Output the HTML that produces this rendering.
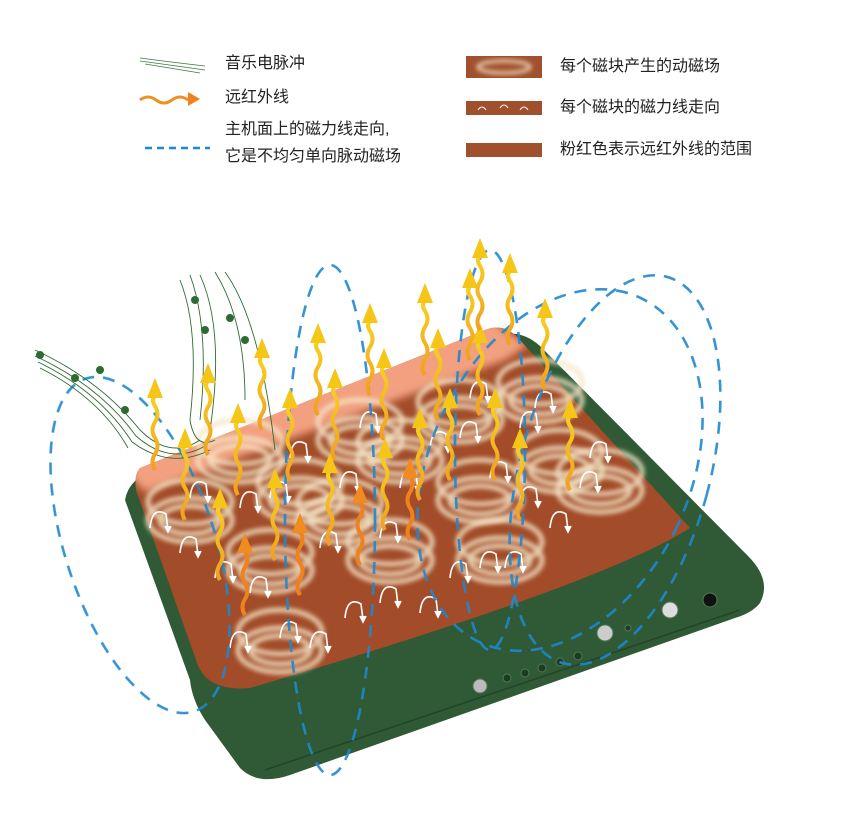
<!DOCTYPE html>
<html><head><meta charset="utf-8"><style>
body{margin:0;background:#fff;width:842px;height:837px;overflow:hidden;font-family:"Liberation Sans","Noto Sans CJK SC",sans-serif;}
.t{position:absolute;font-size:16px;color:#222;line-height:20px;white-space:nowrap}
</style></head><body>
<div class="t" style="left:225px;top:54px">音乐电脉冲</div>
<div class="t" style="left:225px;top:88px">远红外线</div>
<div class="t" style="left:225px;top:120px">主机面上的磁力线走向,</div>
<div class="t" style="left:225px;top:147px">它是不均匀单向脉动磁场</div>
<div class="t" style="left:560px;top:57px">每个磁块产生的动磁场</div>
<div class="t" style="left:560px;top:98px">每个磁块的磁力线走向</div>
<div class="t" style="left:560px;top:140px">粉红色表示远红外线的范围</div>
<svg width="842" height="837" style="position:absolute;left:0;top:0" xmlns="http://www.w3.org/2000/svg">
<defs>
<filter id="bl" x="-30%" y="-30%" width="160%" height="160%"><feGaussianBlur stdDeviation="2.5"/></filter>
<filter id="bl2" x="-30%" y="-30%" width="160%" height="160%"><feGaussianBlur stdDeviation="4"/></filter>
<linearGradient id="ya" x1="0" y1="1" x2="0" y2="0"><stop offset="0" stop-color="#f0a020"/><stop offset="1" stop-color="#f7d020"/></linearGradient>
<g id="ar"><path d="M0,0 q-5,-8 0,-16 q5,-8 0,-16 q-5,-8 0,-16 q5,-8 0,-16 q-4,-6 0,-10" fill="none" stroke="url(#ya)" stroke-width="4"/><path d="M-8,-72 L0,-92 L8,-72 Z" fill="#f5c518"/></g>
<g id="oa"><path d="M0,0 q-5,-8 0,-16 q5,-8 0,-16 q-5,-8 0,-16 q5,-8 0,-16" fill="none" stroke="#f0821e" stroke-width="4"/><path d="M-8,-62 L0,-82 L8,-62 Z" fill="#f08c1e"/></g>
<g id="coil" filter="url(#bl)" fill="none" stroke="#f4e6c8" stroke-width="5" opacity="0.85"><ellipse cx="0" cy="0" rx="42" ry="22"/><ellipse cx="0" cy="0" rx="30" ry="14"/><ellipse cx="0" cy="-18" rx="42" ry="22"/></g>
<g id="sa" fill="none" stroke="#fff" stroke-width="1.6"><path d="M-10,8 Q-8,-14 6,-6 L8,10"/><path d="M5,6 l3,6 l3,-6" fill="#fff"/></g>
<clipPath id="top"><path d="M140,468 L485,330 Q505,322 520,340 L690,528 Q600,585 250,688 Q205,692 196,660 L136,490 Q134,474 140,468Z"/></clipPath>
</defs>
<g stroke="#3b7a3b" stroke-width="0.8" fill="none"><path d="M140,58 Q170,62 205,66"/><path d="M140,61 Q170,65 205,70"/><path d="M145,64 Q170,68 200,73"/></g>
<path d="M140,100 q8,-6 16,0 q8,6 16,0 q8,-6 16,0" fill="none" stroke="#f0901e" stroke-width="3"/><path d="M188,92 L200,99 L188,106Z" fill="#f0821e"/>
<line x1="145" y1="148" x2="210" y2="148" stroke="#1e88d0" stroke-width="2.5" stroke-dasharray="7,5"/>
<rect x="466" y="56" width="76" height="22" fill="#a0502c"/><ellipse cx="504" cy="67" rx="26" ry="6" fill="none" stroke="#f2e0c0" stroke-width="3" filter="url(#bl)"/>
<rect x="466" y="101" width="76" height="14" fill="#a0502c"/><path d="M478,110 q4,-6 8,0 M500,108 q4,-6 8,0 M520,110 q4,-6 8,0" stroke="#fff" fill="none"/>
<rect x="466" y="143" width="76" height="14" fill="#a0502c"/>
<path d="M125,500 Q128,482 148,472 L495,336 Q520,328 540,346 L748,556 Q772,580 760,603 Q752,613 735,618 L290,775 Q258,786 240,768 L205,720 Q192,700 190,680 Z" fill="#2f5a35"/>
<path d="M265,770 L740,610" stroke="#234528" stroke-width="1.5"/>
<g clip-path="url(#top)">
<rect x="100" y="300" width="650" height="420" fill="#a24c29"/>
<path d="M120,465 L490,320 L528,345 L505,360 L145,492 Z" fill="#f2a080" filter="url(#bl2)"/>
</g>
<g fill="#1e3a22" stroke="#4f7a55"><circle cx="480" cy="686" r="7" fill="#bbb"/><circle cx="507" cy="678" r="4"/><circle cx="525" cy="673" r="4"/><circle cx="542" cy="668" r="4"/><circle cx="560" cy="662" r="4"/><circle cx="578" cy="656" r="4"/><circle cx="605" cy="633" r="8" fill="#ccc"/><circle cx="628" cy="628" r="3"/><circle cx="670" cy="610" r="8" fill="#ddd"/><circle cx="710" cy="600" r="7" fill="#111"/></g>
<g>
<use href="#coil" x="190" y="520"/><use href="#coil" x="270" y="570"/><use href="#coil" x="280" y="650"/><use href="#coil" x="300" y="500"/><use href="#coil" x="390" y="560"/><use href="#coil" x="400" y="460"/><use href="#coil" x="500" y="560"/><use href="#coil" x="480" y="500"/><use href="#coil" x="460" y="420"/><use href="#coil" x="560" y="470"/><use href="#coil" x="540" y="400"/><use href="#coil" x="360" y="440"/><use href="#coil" x="240" y="460"/><use href="#coil" x="600" y="490"/><use href="#coil" x="340" y="520"/>
</g>
<g>
<use href="#sa" x="160" y="520"/><use href="#sa" x="190" y="545"/><use href="#sa" x="225" y="570"/><use href="#sa" x="260" y="585"/><use href="#sa" x="290" y="630"/><use href="#sa" x="320" y="640"/><use href="#sa" x="240" y="640"/><use href="#sa" x="355" y="610"/><use href="#sa" x="390" y="595"/><use href="#sa" x="430" y="605"/><use href="#sa" x="460" y="570"/><use href="#sa" x="490" y="560"/><use href="#sa" x="515" y="560"/><use href="#sa" x="330" y="540"/><use href="#sa" x="390" y="530"/><use href="#sa" x="250" y="500"/><use href="#sa" x="280" y="490"/><use href="#sa" x="350" y="480"/><use href="#sa" x="410" y="480"/><use href="#sa" x="440" y="440"/><use href="#sa" x="500" y="470"/><use href="#sa" x="530" y="495"/><use href="#sa" x="560" y="520"/><use href="#sa" x="590" y="480"/><use href="#sa" x="600" y="450"/><use href="#sa" x="530" y="420"/><use href="#sa" x="470" y="430"/><use href="#sa" x="480" y="390"/><use href="#sa" x="545" y="400"/><use href="#sa" x="300" y="450"/><use href="#sa" x="200" y="490"/><use href="#sa" x="370" y="420"/>
</g>
<g fill="none" stroke="#1e88d0" stroke-width="2.6" stroke-dasharray="12,9" opacity="0.9">
<ellipse cx="330" cy="520" rx="45" ry="255"/>
<ellipse cx="490" cy="450" rx="35" ry="200"/>
<ellipse cx="615" cy="470" rx="95" ry="200" transform="rotate(15 615 470)"/>
<ellipse cx="560" cy="470" rx="130" ry="190" transform="rotate(25 560 470)"/>
<ellipse cx="140" cy="545" rx="75" ry="175" transform="rotate(-18 140 545)"/>
</g>
<g fill="none" stroke="#2e6b33" stroke-width="0.9">
<path d="M35,350 Q100,380 140,430 Q170,460 200,440"/><path d="M35,356 Q100,386 136,436 Q170,466 205,446"/><path d="M38,362 Q100,392 132,442 Q170,470 210,450"/><path d="M40,368 Q100,398 128,448"/>
<path d="M180,280 Q200,330 190,420 Q195,450 215,440"/><path d="M190,275 Q210,330 200,420"/><path d="M200,275 Q225,330 210,430"/><path d="M215,272 Q245,320 245,400"/><path d="M225,272 Q260,320 275,450"/>
</g>
<g fill="#2e6b33"><circle cx="40" cy="355" r="4"/><circle cx="75" cy="378" r="4"/><circle cx="100" cy="370" r="4"/><circle cx="125" cy="410" r="4"/><circle cx="195" cy="300" r="4"/><circle cx="230" cy="318" r="4"/><circle cx="245" cy="340" r="4"/><circle cx="205" cy="330" r="4"/></g>
<g>
<use href="#ar" x="155" y="470"/><use href="#ar" x="208" y="455"/><use href="#ar" x="262" y="430"/><use href="#ar" x="318" y="415"/><use href="#ar" x="370" y="395"/><use href="#ar" x="425" y="375"/><use href="#ar" x="470" y="360"/><use href="#ar" x="510" y="345"/>
<use href="#ar" x="185" y="520"/><use href="#ar" x="238" y="495"/><use href="#ar" x="290" y="480"/><use href="#ar" x="335" y="460"/><use href="#ar" x="384" y="440"/><use href="#ar" x="438" y="420"/><use href="#ar" x="480" y="415"/><use href="#ar" x="545" y="390"/>
<use href="#ar" x="220" y="580"/><use href="#ar" x="275" y="560"/><use href="#ar" x="330" y="545"/><use href="#ar" x="385" y="530"/><use href="#ar" x="420" y="500"/><use href="#ar" x="450" y="480"/><use href="#ar" x="520" y="520"/><use href="#ar" x="570" y="490"/><use href="#ar" x="495" y="480"/>
<use href="#oa" x="245" y="615"/><use href="#oa" x="300" y="595"/><use href="#oa" x="360" y="565"/><use href="#oa" x="410" y="540"/><use href="#ar" x="480" y="330"/>
</g>
</svg>
</body></html>
